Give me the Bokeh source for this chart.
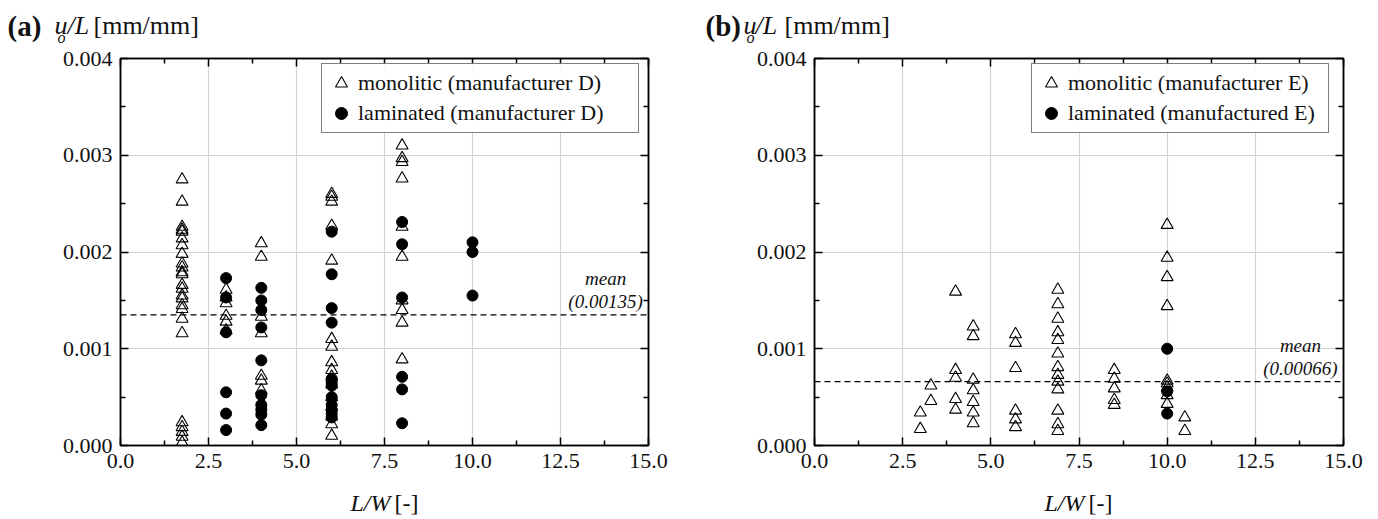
from bokeh.plotting import figure
from bokeh.layouts import row, column
from bokeh.models import (FixedTicker, PrintfTickFormatter, LinearAxis, Span, Label,
                          Legend, LegendItem, ColumnDataSource, Range1d,
                          CustomLabelingPolicy)
from bokeh.core.properties import value
from bokeh.embed import file_html
from bokeh.resources import INLINE

FONT = "Liberation Serif"

# ---------------- data ----------------
x_ticks = [0.0, 2.5, 5.0, 7.5, 10.0, 12.5, 15.0]
x_minor = [1.25, 3.75, 6.25, 8.75, 11.25, 13.75]
y_ticks = [0.000, 0.001, 0.002, 0.003, 0.004]
y_minor = [0.0005, 0.0015, 0.0025, 0.0035]

# panel (a) - manufacturer D
a_mono_lw = [1.75, 3.0, 4.0, 6.0, 8.0]
a_mono_vals = [
    [0.00275, 0.00252, 0.00226, 0.00223, 0.00221, 0.00214, 0.00207, 0.00198, 0.00188,
     0.00184, 0.00179, 0.00177, 0.00166, 0.00162, 0.00155, 0.00152, 0.00145, 0.00141,
     0.00131, 0.00116, 0.00024, 0.00019, 0.00014, 0.00009, 0.00003],
    [0.00161, 0.00153, 0.00147, 0.00134, 0.00128, 0.00119],
    [0.00209, 0.00195, 0.00133, 0.00116, 0.00072, 0.00067, 0.00057],
    [0.00260, 0.00257, 0.00252, 0.00227, 0.00191, 0.00110, 0.00102, 0.00086, 0.00078,
     0.00071, 0.00063, 0.00050, 0.00040, 0.00030, 0.00022, 0.00010],
    [0.00310, 0.00297, 0.00293, 0.00276, 0.00226, 0.00195, 0.00150, 0.00140, 0.00127,
     0.00089],
]
a_lam_lw = [3.0, 4.0, 6.0, 8.0, 10.0]
a_lam_vals = [
    [0.00173, 0.00153, 0.00117, 0.00055, 0.00033, 0.00016],
    [0.00163, 0.00150, 0.00140, 0.00122, 0.00088, 0.00052, 0.00042, 0.00037, 0.00032,
     0.00021],
    [0.00221, 0.00177, 0.00142, 0.00127, 0.00069, 0.00065, 0.00062, 0.00050, 0.00042,
     0.00037, 0.00033, 0.00029],
    [0.00231, 0.00208, 0.00153, 0.00071, 0.00058, 0.00023],
    [0.00210, 0.00200, 0.00155],
]
a_mean = 0.00135
a_legend = ["monolitic (manufacturer D)", "laminated (manufacturer D)"]

# panel (b) - manufacturer E
b_mono_lw = [3.0, 3.3, 4.0, 4.5, 5.7, 6.9, 8.5, 10.0, 10.5]
b_mono_vals = [
    [0.00034, 0.00017],
    [0.00062, 0.00046],
    [0.00159, 0.00078, 0.00070, 0.00048, 0.00037],
    [0.00123, 0.00113, 0.00068, 0.00057, 0.00045, 0.00034, 0.00023],
    [0.00115, 0.00106, 0.00080, 0.00036, 0.00027, 0.00019],
    [0.00161, 0.00146, 0.00131, 0.00117, 0.00109, 0.00095, 0.00081, 0.00073, 0.00066,
     0.00058, 0.00036, 0.00022, 0.00015],
    [0.00078, 0.00069, 0.00059, 0.00047, 0.00042],
    [0.00228, 0.00194, 0.00174, 0.00144, 0.00067, 0.00064, 0.00060, 0.00052, 0.00043],
    [0.00029, 0.00015],
]
b_lam_lw = [10.0]
b_lam_vals = [
    [0.00100, 0.00056, 0.00033],
]
b_mean = 0.00066
b_legend = ["monolitic (manufacturer E)", "laminated (manufactured E)"]

HEAD_H = 46
FOOT_H = 38
MAIN_H = 519 - HEAD_H - FOOT_H
TOP_B = 58 - HEAD_H
FRAME_H = 387

NO_LABELS = CustomLabelingPolicy(code="if (false) { yield 0 }")


def flatten(lws, vals):
    xs, ys = [], []
    for lw, vv in zip(lws, vals):
        for v in vv:
            xs.append(lw)
            ys.append(v)
    return ColumnDataSource(dict(x=xs, y=ys))


def style_axis(ax, is_x, labels=True):
    ax.ticker = FixedTicker(ticks=x_ticks if is_x else y_ticks,
                            minor_ticks=x_minor if is_x else y_minor)
    ax.axis_line_color = "black"
    ax.axis_line_width = 1.5
    ax.major_tick_in = 8
    ax.major_tick_out = 0
    ax.minor_tick_in = 5
    ax.minor_tick_out = 0
    ax.major_tick_line_color = "black"
    ax.major_tick_line_width = 1.5
    ax.minor_tick_line_color = "black"
    ax.minor_tick_line_width = 1.5
    ax.major_label_text_font = FONT
    ax.major_label_text_color = "#111111"
    if labels:
        ax.major_label_text_font_size = "22px"
        ax.major_label_standoff = 8
    else:
        ax.major_label_text_font_size = "0px"
        ax.major_label_standoff = 0
        ax.major_label_policy = NO_LABELS


def text_fig(w, h, items):
    f = figure(width=w, height=h, x_range=Range1d(0, w), y_range=Range1d(0, h),
               output_backend="svg", toolbar_location=None, tools="", title=None,
               x_axis_type=None, y_axis_type=None, min_border=0, frame_align=False,
               background_fill_color="white", border_fill_color="white")
    f.outline_line_color = None
    for (x, y, t, size, style) in items:
        f.text(x=[x], y=[y], text=[t], text_font=value(FONT),
               text_font_size=value(size), text_font_style=style,
               text_align="left", text_baseline="alphabetic", text_color="#111111")
    return f


def make_main(mono_src, lam_src, mean, legend_labels, left_border, frame_w,
              legend_x, label_w):
    p = figure(width=689, height=MAIN_H, x_range=Range1d(0, 15),
               y_range=Range1d(0, 0.004), title=None,
               output_backend="svg", toolbar_location=None, tools="",
               min_border_left=left_border, min_border_right=689 - left_border - frame_w,
               min_border_top=TOP_B, min_border_bottom=MAIN_H - TOP_B - FRAME_H,
               frame_align=False,
               background_fill_color="white", border_fill_color="white")
    p.outline_line_color = "black"
    p.outline_line_width = 1.5

    style_axis(p.xaxis[0], True)
    style_axis(p.yaxis[0], False)
    p.xaxis[0].formatter = PrintfTickFormatter(format="%.1f")
    p.yaxis[0].formatter = PrintfTickFormatter(format="%.3f")
    top = LinearAxis()
    right = LinearAxis()
    p.add_layout(top, "above")
    p.add_layout(right, "right")
    style_axis(top, True, labels=False)
    style_axis(right, False, labels=False)

    p.xgrid.ticker = FixedTicker(ticks=x_ticks)
    p.ygrid.ticker = FixedTicker(ticks=y_ticks)
    p.xgrid.grid_line_color = "#d4d4d4"
    p.ygrid.grid_line_color = "#d4d4d4"
    p.xgrid.grid_line_width = 1.2
    p.ygrid.grid_line_width = 1.2

    p.add_layout(Span(location=mean, dimension="width", line_color="black",
                      line_dash="6 4", line_width=1.3))

    r_tri = p.scatter("x", "y", source=mono_src, marker="triangle", size=12,
                      fill_color=None, line_color="black", line_width=1.1)
    r_cir = p.scatter("x", "y", source=lam_src, marker="circle", size=11,
                      fill_color="black", line_color="black")

    legend = Legend(items=[LegendItem(label=legend_labels[0], renderers=[r_tri]),
                           LegendItem(label=legend_labels[1], renderers=[r_cir])],
                    location=(legend_x, 312), border_line_color="black",
                    border_line_width=1.2, label_text_font=FONT,
                    label_text_font_size="22px", label_text_color="#111111",
                    padding=4, spacing=0, glyph_width=30, glyph_height=30,
                    label_standoff=2, margin=0, label_width=label_w)
    p.add_layout(legend)

    # mean annotation (inside the frame)
    for txt, off in (("mean", 36), ("(%.5f)" % mean, 13)):
        p.add_layout(Label(x=13.78, y=mean, text=txt, text_font=FONT,
                           text_font_size="19px", text_font_style="italic",
                           text_align="center", text_baseline="middle",
                           y_offset=off, text_color="#111111"))
    return p


def panel(letter, mono_src, lam_src, mean, legend_labels, left_border, frame_w,
          legend_x, label_w, title_x):
    tx = title_x
    head = text_fig(689, HEAD_H, [
        (tx[0], 21, "(%s)" % letter, "29px", "bold"),
        (tx[1], 21, "u", "26px", "italic"),
        (tx[2], 9, "o", "16px", "italic"),
        (tx[3], 21, "/L", "26px", "italic"),
        (tx[4], 21, "[mm/mm]", "26px", "normal"),
    ])
    main = make_main(mono_src, lam_src, mean, legend_labels, left_border, frame_w,
                     legend_x, label_w)
    foot = text_fig(689, FOOT_H, [
        (left_border + 230, 17, "L/W", "24px", "italic"),
        (left_border + 274, 17, "[-]", "24px", "normal"),
    ])
    return column(head, main, foot, spacing=0)


pa = panel("a", flatten(a_mono_lw, a_mono_vals), flatten(a_lam_lw, a_lam_vals),
           a_mean, a_legend, 120, 528, 201, 276, [7, 54, 57, 67, 93])
pb = panel("b", flatten(b_mono_lw, b_mono_vals), flatten(b_lam_lw, b_lam_vals),
           b_mean, b_legend, 125, 529, 217, 256, [16, 54, 57, 66, 95])

layout = row(pa, pb, spacing=0)
open("out.html", "w").write(file_html(layout, INLINE))
